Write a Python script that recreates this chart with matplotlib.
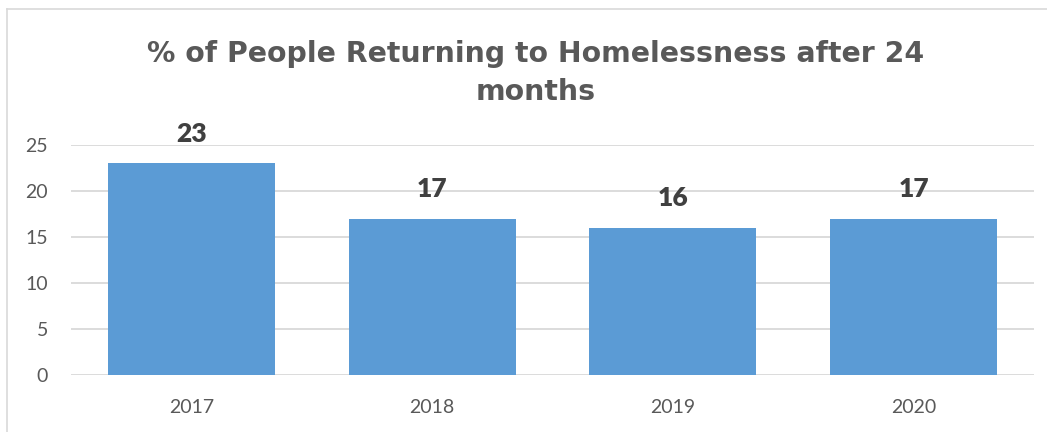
import matplotlib
matplotlib.use("Agg")
import matplotlib.pyplot as plt

years = ["2017", "2018", "2019", "2020"]
values = [23, 17, 16, 17]
yticks = [0, 5, 10, 15, 20, 25]
title = "% of People Returning to Homelessness after 24\nmonths"

W, H = 1047, 432
fig = plt.figure(figsize=(W / 100, H / 100), dpi=100)
fig.patch.set_facecolor("white")

# outer chart border (left and top visible)
fig.add_artist(plt.Line2D([7 / W, 7 / W], [0, 1 - 9 / H], color="#d9d9d9", lw=1.2, transform=fig.transFigure))
fig.add_artist(plt.Line2D([7 / W, 1], [1 - 9 / H, 1 - 9 / H], color="#d9d9d9", lw=1.2, transform=fig.transFigure))

left, right = 71 / W, 1034 / W
bottom, top = 1 - 375 / H, 1 - 145 / H
ax = fig.add_axes([left, bottom, right - left, top - bottom])
x = list(range(len(years)))
ax.bar(x, values, width=0.694, color="#5b9bd5", zorder=3)
ax.set_xlim(-0.5, len(years) - 0.5)
ax.set_ylim(0, 25)
ax.set_yticks(yticks)
ax.set_yticklabels([str(t) for t in yticks])
ax.set_xticks(x)
ax.set_xticklabels(years)
ax.grid(axis="y", color="#d9d9d9", lw=1.3, zorder=0)
for s in ax.spines.values():
    s.set_visible(False)
ax.tick_params(axis="both", length=0, labelsize=14, labelcolor="#595959")
ax.tick_params(axis="y", pad=16.5)
ax.tick_params(axis="x", pad=17)
for lab in ax.get_xticklabels() + ax.get_yticklabels():
    lab.set_fontfamily("Lato")

for xi, v in zip(x, values):
    ax.annotate(str(v), (xi, v), xytext=(0, 12.5), textcoords="offset points",
                ha="center", va="bottom", fontsize=19, fontweight="heavy",
                color="#404040", fontfamily="Lato")

fig.text(536 / W, 1 - 73 / H, title, ha="center", va="center", fontsize=20.4,
         fontweight="bold", color="#595959", fontfamily="DejaVu Sans",
         linespacing=1.5)

fig.savefig("out.png", dpi=100, facecolor="white")
